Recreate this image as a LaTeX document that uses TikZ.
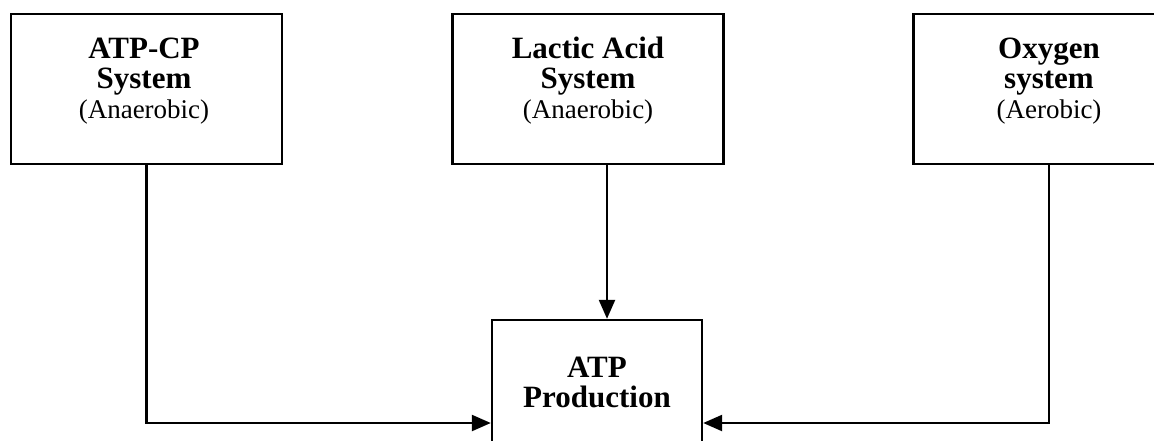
\documentclass[tikz,border=0pt]{standalone}
\usepackage{fontspec}
\setmainfont{Liberation Serif}
\usetikzlibrary{arrows.meta}
\begin{document}
\begin{tikzpicture}[x=1pt,y=-1pt,
  sysbox/.style={draw=black,line width=2.4pt,minimum width=271pt,minimum height=150pt,inner sep=0pt},
  prodbox/.style={draw=black,line width=2.4pt,minimum width=210pt,minimum height=206pt,inner sep=0pt},
  lbl/.style={align=center,inner sep=0pt,text=black,font=\fontsize{31}{30}\selectfont\bfseries},
  conn/.style={draw=black,line width=2.4pt},
  arr/.style={conn,-{Triangle[length=19pt,width=16pt]}}
]
\newcommand{\subline}[1]{{\fontsize{27}{30}\selectfont\mdseries #1}}
\useasboundingbox (0,0) rectangle (1154,440);
\clip (0,0) rectangle (1154,440);
\fill[white] (0,0) rectangle (1154,440);
% boxes
\node[sysbox] (atpcp) at (146.5,89) {};
\node[sysbox] (lactic) at (588,89) {};
\node[sysbox] (oxy) at (1049,89) {};
\node[prodbox] (prod) at (597,423) {};
% labels
\node[lbl] (t1) at (144,81) {ATP-CP\\System\\\subline{(Anaerobic)}};
\node[lbl] (t2) at (588,81) {Lactic Acid\\System\\\subline{(Anaerobic)}};
\node[lbl] (t3) at (1049,81) {Oxygen\\system\\\subline{(Aerobic)}};
\node[lbl] (t4) at (597,382) {ATP\\Production};
% connectors
\draw[arr] (atpcp.south) |- (prod.west);
\draw[arr] ([xshift=19pt]lactic.south) -- ([xshift=19pt]lactic.south |- prod.north);
\draw[arr] (oxy.south) |- (prod.east);
\end{tikzpicture}
\end{document}
